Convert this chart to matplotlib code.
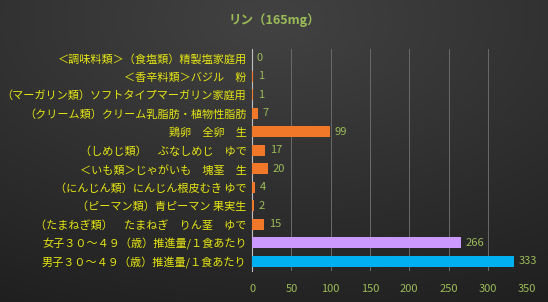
import matplotlib
matplotlib.use("Agg")
import matplotlib.pyplot as plt
import numpy as np

plt.rcParams['font.family'] = ['Noto Sans CJK JP', 'DejaVu Sans']

title = "リン（165mg）"
categories = [
    "＜調味料類＞（食塩類）精製塩家庭用",
    "＜香辛料類＞バジル　粉",
    "（マーガリン類）ソフトタイプマーガリン家庭用",
    "（クリーム類）クリーム乳脂肪・植物性脂肪",
    "鶏卵　全卵　生",
    "（しめじ類）　ぶなしめじ　ゆで",
    "＜いも類＞じゃがいも　塊茎　生",
    "（にんじん類）にんじん根皮むき ゆで",
    "（ピーマン類）青ピーマン 果実生",
    "（たまねぎ類）　たまねぎ　りん茎　ゆで",
    "女子３０～４９（歳）推進量/１食あたり",
    "男子３０～４９（歳）推進量/１食あたり",
]
values = [0, 1, 1, 7, 99, 17, 20, 4, 2, 15, 266, 333]
colors = ["#f07828"] * 10 + ["#cc99ff", "#00b0f0"]
xticks = [0, 50, 100, 150, 200, 250, 300, 350]

fig = plt.figure(figsize=(5.48, 3.02), dpi=100)
# background gradient
bg = fig.add_axes([0, 0, 1, 1], zorder=-10)
yy, xx = np.mgrid[0:302, 0:548]
d = np.sqrt(((xx - 270) / 548.0) ** 2 + ((yy - 20) / 302.0) ** 2)
val = 0.26 - 0.13 * d
val = np.clip(val, 0.12, 0.27)
bg.imshow(np.dstack([val, val, val]), aspect='auto', extent=[0, 1, 0, 1])
bg.axis('off')

ax = fig.add_axes([0.46, 0.104, 0.502, 0.735])
ax.set_facecolor('none')
y = np.arange(len(categories))
ax.barh(y, values, height=0.6, color=colors, zorder=3)
for yi, v in zip(y, values):
    ax.text(v + 6, yi, str(v), va='center', ha='left', color='#9bbb59', fontsize=8)
ax.set_yticks(y)
ax.set_yticklabels(categories, color='#e6e614', fontsize=8)
ax.set_ylim(len(categories) - 0.5, -0.5)
ax.set_xlim(0, 350)
ax.set_xticks(xticks)
ax.set_xticklabels([str(t) for t in xticks], color='#9bbb59', fontsize=8)
ax.tick_params(axis='both', length=0, pad=4)
ax.tick_params(axis='x', pad=10)
ax.grid(axis='x', color='#6a6a6a', linewidth=0.7, zorder=0)
for s in ['top', 'right', 'bottom']:
    ax.spines[s].set_visible(False)
ax.spines['left'].set_color('#bfbfbf')
ax.spines['left'].set_linewidth(0.8)
fig.text(0.5, 0.935, title, ha='center', va='center', color='#9bbb59', fontsize=9, fontweight='bold')
fig.savefig('out.png', dpi=100)
